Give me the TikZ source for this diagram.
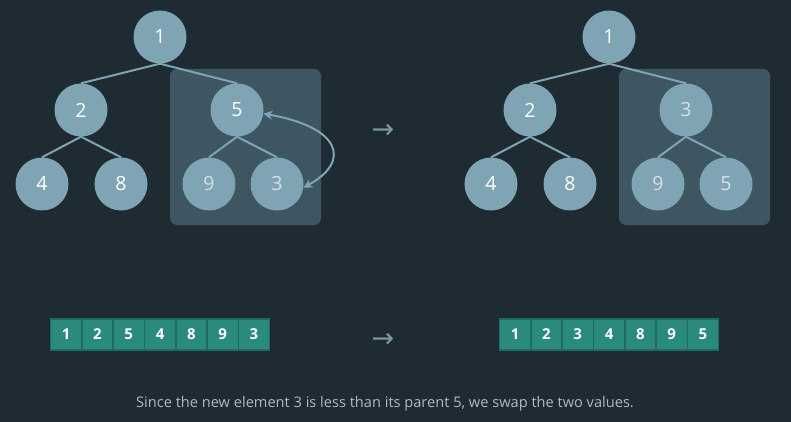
\documentclass[tikz,border=0pt]{standalone}
\usepackage{fontspec}
\setmainfont{Open Sans}
\newfontfamily\arrowfont{DejaVu Sans}
\usetikzlibrary{arrows.meta}
\definecolor{bgc}{HTML}{1F2B33}
\definecolor{nodec}{HTML}{7FA5B4}
\definecolor{boxc}{HTML}{3E5661}
\definecolor{cellc}{HTML}{2A8A7B}
\definecolor{celld}{HTML}{1E6B60}
\definecolor{capc}{HTML}{AEBBC3}
\definecolor{arrc}{HTML}{7A98A6}
\definecolor{dimtxt}{HTML}{D8E1E6}
\pgfdeclarelayer{bglayer}
\pgfdeclarelayer{boxlayer}
\pgfdeclarelayer{edgelayer}
\pgfsetlayers{bglayer,boxlayer,edgelayer,main}
\tikzset{
  hnode/.style={circle,fill=nodec,minimum size=53pt,inner sep=0pt,text=white,font=\fontsize{19.5}{19.5}\selectfont},
  hdim/.style={hnode,text=dimtxt},
  hedge/.style={draw=nodec,line width=2pt},
  hbox/.style={fill=boxc,rounded corners=7pt},
  cell/.style={rectangle,fill=cellc,draw=celld,line width=1.6pt,minimum width=31.3pt,minimum height=31pt,inner sep=0pt,text=white,font=\bfseries\fontsize{15}{15}\selectfont},
  swaparrow/.style={draw=nodec,line width=2pt,{Stealth[length=9pt,width=9pt]}-{Stealth[length=9pt,width=9pt]}},
  bigarrow/.style={text=arrc,font=\arrowfont\fontsize{27}{27}\selectfont,inner sep=0pt}
}
\begin{document}
\begin{tikzpicture}[x=1pt,y=-1pt]
\begin{pgfonlayer}{bglayer}
\fill[bgc] (0,0) rectangle (791,422);
\end{pgfonlayer}
\useasboundingbox (0,0) rectangle (791,422);
% left tree
\node[hnode] (a1) at (160,37) {1};
\node[hnode] (a2) at (81,110) {2};
\node[hnode] (a5) at (237,110) {5};
\node[hnode] (a4) at (42,184) {4};
\node[hnode] (a8) at (121,184) {8};
\node[hdim] (a9) at (209,184) {9};
\node[hdim] (a3) at (277,184) {3};
% right tree
\node[hnode] (b1) at (609,37) {1};
\node[hnode] (b2) at (530,110) {2};
\node[hdim] (b3) at (686,110) {3};
\node[hnode] (b4) at (491,184) {4};
\node[hnode] (b8) at (570,184) {8};
\node[hdim] (b9) at (658,184) {9};
\node[hdim] (b5) at (726,184) {5};
% highlight boxes
\begin{pgfonlayer}{boxlayer}
\fill[hbox] (170,69) rectangle (321,225);
\fill[hbox] (619,69) rectangle (770,225);
\end{pgfonlayer}
% edges
\begin{pgfonlayer}{edgelayer}
\draw[hedge] (a1.south) -- (a2.north);
\draw[hedge] (a1.south) -- (a5.north);
\draw[hedge] (a2.south) -- (a4.north);
\draw[hedge] (a2.south) -- (a8.north);
\draw[hedge] (a5.south) -- (a9.north);
\draw[hedge] (a5.south) -- (a3.north);
\draw[hedge] (b1.south) -- (b2.north);
\draw[hedge] (b1.south) -- (b3.north);
\draw[hedge] (b2.south) -- (b4.north);
\draw[hedge] (b2.south) -- (b8.north);
\draw[hedge] (b3.south) -- (b9.north);
\draw[hedge] (b3.south) -- (b5.north);
\end{pgfonlayer}
% swap arrow
\draw[swaparrow] (a5.-8) .. controls +(76,13) and +(49,-27) .. (a3.-8);
% transition arrows
\node[bigarrow] (t1) at (383,131) {→};
\node[bigarrow] (t2) at (383,340) {→};
% arrays
\foreach \v [count=\i from 0] in {1,2,5,4,8,9,3}{
  \node[cell] (l\i) at ({50.5+15.65+31.3*\i},334.5) {\v};
}
\foreach \v [count=\i from 0] in {1,2,3,4,8,9,5}{
  \node[cell] (r\i) at ({499.5+15.65+31.3*\i},334.5) {\v};
}
% caption
\node[text=capc,font=\fontsize{14.6}{14.6}\selectfont] (cap) at (385,404) {Since the new element 3 is less than its parent 5, we swap the two values.};
\end{tikzpicture}
\end{document}
